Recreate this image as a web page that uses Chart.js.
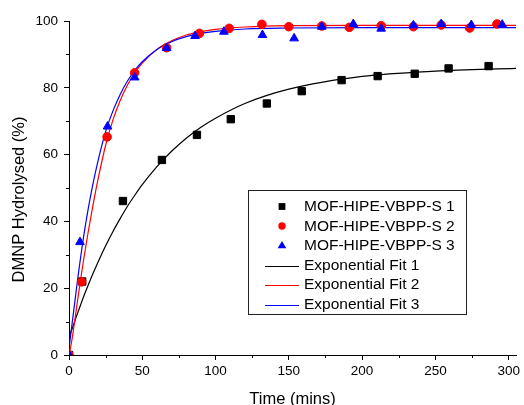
<!DOCTYPE html>
<html>
<head>
<meta charset="utf-8">
<script src="https://cdn.jsdelivr.net/npm/chart.js@4.4.0/dist/chart.umd.min.js"></script>
<style>
html, body { margin: 0; padding: 0; background: #fff; }
</style>
</head>
<body>
<canvas id="chart" width="524" height="405"></canvas>
<script>
// measured points (time in mins, % hydrolysed)
const s1Time = [0, 9, 36.8, 63.4, 87.3, 110.4, 135, 158.8, 186, 210.6, 235.9, 259, 286.3]
const s1Val = [0, 22, 46.1, 58.4, 65.9, 70.6, 75.3, 79, 82.3, 83.5, 84.2, 85.8, 86.5]
const s2Time = [0, 8.6, 26, 44.8, 66.6, 89, 109.3, 131.6, 150, 172.5, 191.3, 213, 235, 254, 273.4, 292]
const s2Val = [0, 21.9, 65.3, 84.5, 92, 96.3, 97.8, 99, 98.3, 98.5, 98.1, 98.6, 98.3, 98.8, 97.9, 99.1]
const s3Time = [0, 7.5, 26.3, 44.8, 66.6, 86, 105.7, 132, 153.6, 172.5, 194, 213, 235, 254, 274.5, 295.6]
const s3Val = [0, 33.8, 68.4, 83.1, 91.9, 95.5, 96.8, 95.8, 94.8, 98.3, 99.1, 97.7, 98.7, 99.1, 98.8, 98.9]

// fit curves at these times
const fitTime = [0, 2, 4, 6, 8, 10, 13, 16, 20, 25, 30, 35, 40, 45, 50, 60, 70, 80, 90, 100, 120, 150, 200, 250, 305]
const fit1Val = [5.5, 7.7, 10.2, 12.7, 15.1, 17.5, 20.8, 24.0, 28.0, 32.7, 37.0, 40.9, 44.6, 47.9, 51.0, 56.4, 61.0, 64.9, 68.2, 70.9, 75.3, 79.6, 83.4, 85.0, 85.8]
const fit2Val = [0, 4.5, 10.5, 16.8, 22.8, 28.6, 36.6, 44, 53, 62.8, 70.4, 76.3, 80.9, 84.5, 87.4, 91.5, 94.1, 95.8, 96.8, 97.5, 98.2, 98.6, 98.7, 98.7, 98.7]
const fit3Val = [2, 9, 16, 23, 29.5, 35.5, 43.5, 50.5, 58.5, 66.9, 73.1, 78.1, 82.1, 85.3, 87.8, 91.5, 93.8, 95.3, 96.3, 96.9, 97.6, 97.9, 98, 98, 98]

const seriesNames = ["MOF-HIPE-VBPP-S 1", "MOF-HIPE-VBPP-S 2", "MOF-HIPE-VBPP-S 3"]
const fitNames = ["Exponential Fit 1", "Exponential Fit 2", "Exponential Fit 3"]

const xTicks = [0, 50, 100, 150, 200, 250, 300]
const xMinor = [25, 75, 125, 175, 225, 275]
const yTicks = [0, 20, 40, 60, 80, 100]
const yMinor = [10, 30, 50, 70, 90]

const COLORS = ["#000000", "#ff0000", "#0000ff"]
const FONT = "'Liberation Sans', Arial, sans-serif"
Chart.defaults.font.family = FONT
Chart.defaults.color = "#000"

toPoints = (xs, ys) => xs.map((x, i) => ({ x, y: ys[i] }))

markerSet = (label, xs, ys, color, style, radius, order) => ({
    label, data: toPoints(xs, ys), showLine: false,
    pointStyle: style, pointRadius: radius, pointBorderWidth: 1,
    backgroundColor: color, borderColor: color, order,
    clip: { left: 0, top: 8, right: 8, bottom: 0 }
})

fitSet = (label, ys, color, order) => ({
    label, data: toPoints(fitTime, ys), showLine: true,
    pointRadius: 0, borderWidth: 1.2, borderColor: color, backgroundColor: color,
    cubicInterpolationMode: "monotone", order
})

//#region plugins
const minorTicks = {
    id: "minorTicks",
    afterDraw(chart) {
        const { ctx, scales: { x, y }, chartArea } = chart
        ctx.save()
        ctx.strokeStyle = "#000"
        ctx.lineWidth = 1
        ctx.beginPath()
        xMinor.forEach(v => {
            const px = Math.round(x.getPixelForValue(v)) + 0.5
            ctx.moveTo(px, chartArea.bottom)
            ctx.lineTo(px, chartArea.bottom + 3)
        })
        yMinor.forEach(v => {
            const py = Math.round(y.getPixelForValue(v)) + 0.5
            ctx.moveTo(chartArea.left, py)
            ctx.lineTo(chartArea.left - 3, py)
        })
        ctx.stroke()
        ctx.restore()
    }
}

drawMarker = (ctx, style, cx, cy, r) => {
    ctx.beginPath()
    if (style === "rect") {
        ctx.rect(cx - r, cy - r, 2 * r, 2 * r)
    } else if (style === "circle") {
        ctx.arc(cx, cy, r, 0, Math.PI * 2)
    } else {
        ctx.moveTo(cx, cy - r * 1.0)
        ctx.lineTo(cx + r * 0.95, cy + r * 0.6)
        ctx.lineTo(cx - r * 0.95, cy + r * 0.6)
        ctx.closePath()
    }
    ctx.fill()
}

const boxLegend = {
    id: "boxLegend",
    afterDraw(chart) {
        const ctx = chart.ctx
        const box = { left: 248.5, top: 190.5, right: 466.5, bottom: 314.5 }
        ctx.save()
        ctx.fillStyle = "#fff"
        ctx.fillRect(box.left, box.top, box.right - box.left, box.bottom - box.top)
        ctx.strokeStyle = "#222"
        ctx.lineWidth = 1
        ctx.strokeRect(box.left, box.top, box.right - box.left, box.bottom - box.top)
        ctx.font = "15.5px " + FONT
        ctx.textBaseline = "middle"
        ctx.textAlign = "left"
        const sizes = { rect: 3.4, circle: 3.7, triangle: 4.6 }
        chart.data.datasets.forEach((ds, i) => {
            const cy = 207 + i * 19.55
            const color = COLORS[i % 3]
            if (ds.showLine) {
                ctx.strokeStyle = color
                ctx.lineWidth = 1.2
                ctx.beginPath()
                ctx.moveTo(265, Math.round(cy) + 0.5)
                ctx.lineTo(299, Math.round(cy) + 0.5)
                ctx.stroke()
            } else {
                ctx.fillStyle = color
                drawMarker(ctx, ds.pointStyle, 282, cy - 0.5, sizes[ds.pointStyle])
            }
            ctx.fillStyle = "#000"
            ctx.fillText(ds.label, 304, cy)
        })
        ctx.restore()
    }
}
//#endregion

keepTicks = values => scale => {
    scale.ticks = values.map(value => ({ value }))
}

new Chart("chart", {
    type: "scatter",
    data: {
        datasets: [
            markerSet(seriesNames[0], s1Time, s1Val, COLORS[0], "rect", 5.2, 3),
            markerSet(seriesNames[1], s2Time, s2Val, COLORS[1], "circle", 4.3, 2),
            markerSet(seriesNames[2], s3Time, s3Val, COLORS[2], "triangle", 5.0, 1),
            fitSet(fitNames[0], fit1Val, COLORS[0], 6),
            fitSet(fitNames[1], fit2Val, COLORS[1], 5),
            fitSet(fitNames[2], fit3Val, COLORS[2], 4)
        ]
    },
    options: {
        responsive: false,
        animation: false,
        devicePixelRatio: 1,
        layout: { padding: { left: 0, right: 8, top: 21, bottom: 0 } },
        plugins: { legend: { display: false }, tooltip: { enabled: false } },
        scales: {
            x: {
                type: "linear", min: 0, max: 305,
                afterBuildTicks: keepTicks(xTicks),
                afterFit: s => { s.height = 50 },
                ticks: { font: { size: 13.5 }, color: "#000", padding: 3, maxRotation: 0 },
                grid: { drawOnChartArea: false, drawTicks: true, tickLength: 5, color: "#000" },
                border: { color: "#000", width: 1 },
                title: { display: true, text: "Time (mins)", font: { size: 16.5 }, color: "#000", padding: { top: 0, bottom: -4 } }
            },
            y: {
                type: "linear", min: 0, max: 100,
                afterBuildTicks: keepTicks(yTicks),
                afterFit: s => { s.width = 69 },
                ticks: { font: { size: 13.5 }, color: "#000", padding: 6 },
                grid: { drawOnChartArea: false, drawTicks: true, tickLength: 5, color: "#000" },
                border: { color: "#000", width: 1 },
                title: { display: true, text: "DMNP Hydrolysed (%)     ", font: { size: 16.5 }, color: "#000", padding: { top: 9.3, bottom: 0 } }
            }
        }
    },
    plugins: [minorTicks, boxLegend]
})
</script>
</body>
</html>
